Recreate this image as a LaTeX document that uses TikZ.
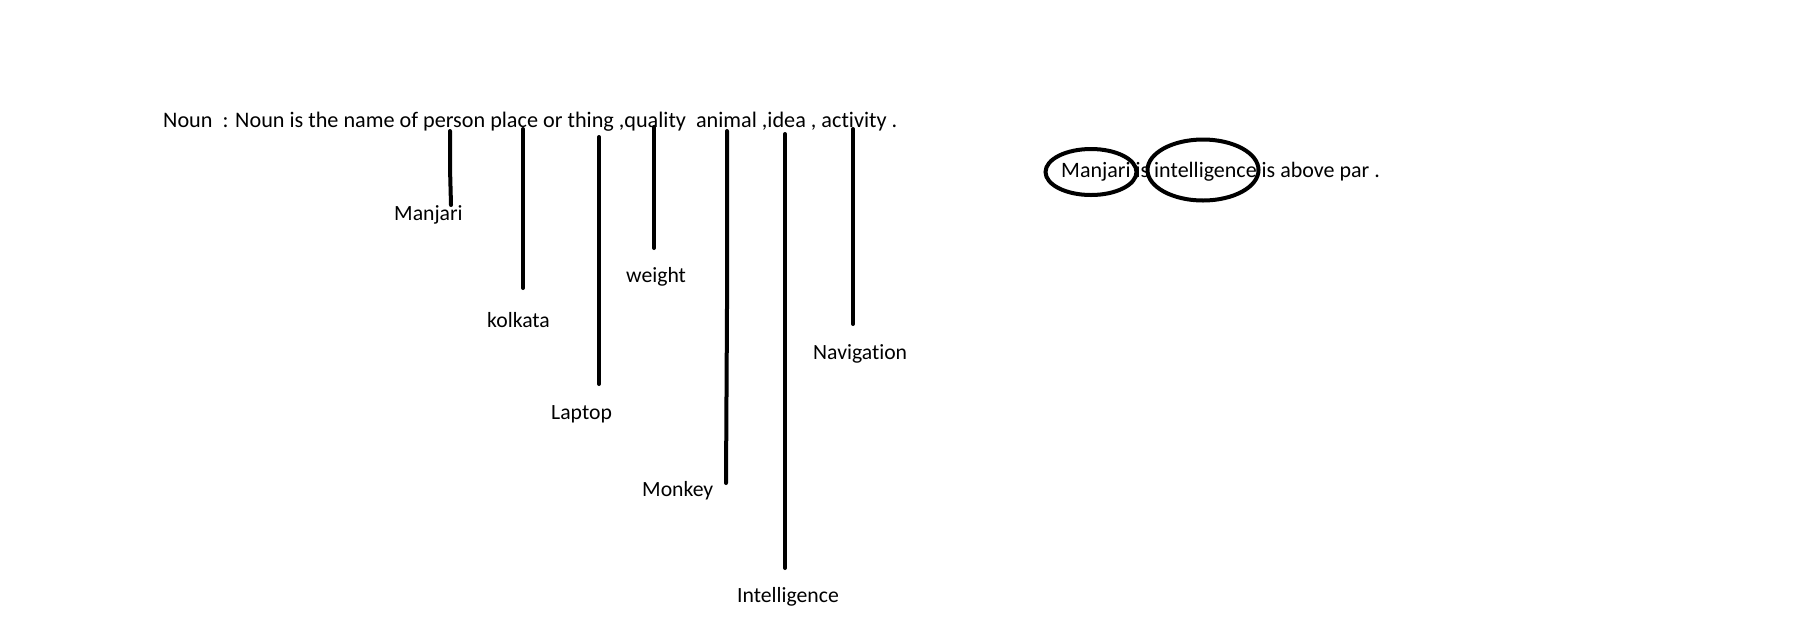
\documentclass[tikz,border=0pt]{standalone}
\usepackage{fontspec}
\setmainfont{Carlito}[Ligatures={NoCommon}]
\usetikzlibrary{shapes.geometric}
\begin{document}
\begin{tikzpicture}[x=1pt,y=-1pt,
  lbl/.style={anchor=base west,inner sep=0pt,font=\fontsize{21.7}{26}\selectfont},
  stick/.style={line width=4pt,line cap=round,black},
  ring/.style={draw,line width=4pt,ellipse,inner sep=0pt}]
\useasboundingbox[fill=white] (0,0) rectangle (1819,633);
\node[lbl,font=\fontsize{22.2}{27}\selectfont] (def) at (163,127) {Noun\ \ : Noun is the name of person place or thing ,quality\ \ animal ,idea , activity .};
% labels
\node[lbl] (manjari) at (394,220) {Manjari};
\node[lbl] (kolkata) at (487,327) {kolkata};
\node[lbl] (laptop) at (551,419) {Laptop};
\node[lbl] (weight) at (626,282) {weight};
\node[lbl] (monkey) at (642,496) {Monkey};
\node[lbl] (intel) at (737,602) {Intelligence};
\node[lbl] (navig) at (813,359) {Navigation};
% connector coordinates
\coordinate (t1) at (450,131); \coordinate (k1) at (450,168); \coordinate (b1) at (451,205);
\coordinate (t2) at (523,129); \coordinate (b2) at (523,288);
\coordinate (t3) at (599,137); \coordinate (b3) at (599,384);
\coordinate (t4) at (654,127); \coordinate (b4) at (654,248);
\coordinate (t5) at (727,131); \coordinate (k5) at (727,307); \coordinate (b5) at (726,483);
\coordinate (t6) at (785,134); \coordinate (b6) at (785,568);
\coordinate (t7) at (853,129); \coordinate (b7) at (853,324);
\draw[stick] (t1) -- (k1) -- (b1);
\draw[stick] (t2) -- (b2);
\draw[stick] (t3) -- (b3);
\draw[stick] (t4) -- (b4);
\draw[stick] (t5) -- (k5) -- (b5);
\draw[stick] (t6) -- (b6);
\draw[stick] (t7) -- (b7);
% right sentence
\node[lbl,font=\fontsize{22}{27}\selectfont] (sent) at (1061,177) {Manjari is intelligence is above par .};
\node[ring,minimum width=91pt,minimum height=46pt] (e1) at (1091,172) {};
\node[ring,minimum width=111pt,minimum height=61pt] (e2) at (1203,170) {};
\end{tikzpicture}
\end{document}
